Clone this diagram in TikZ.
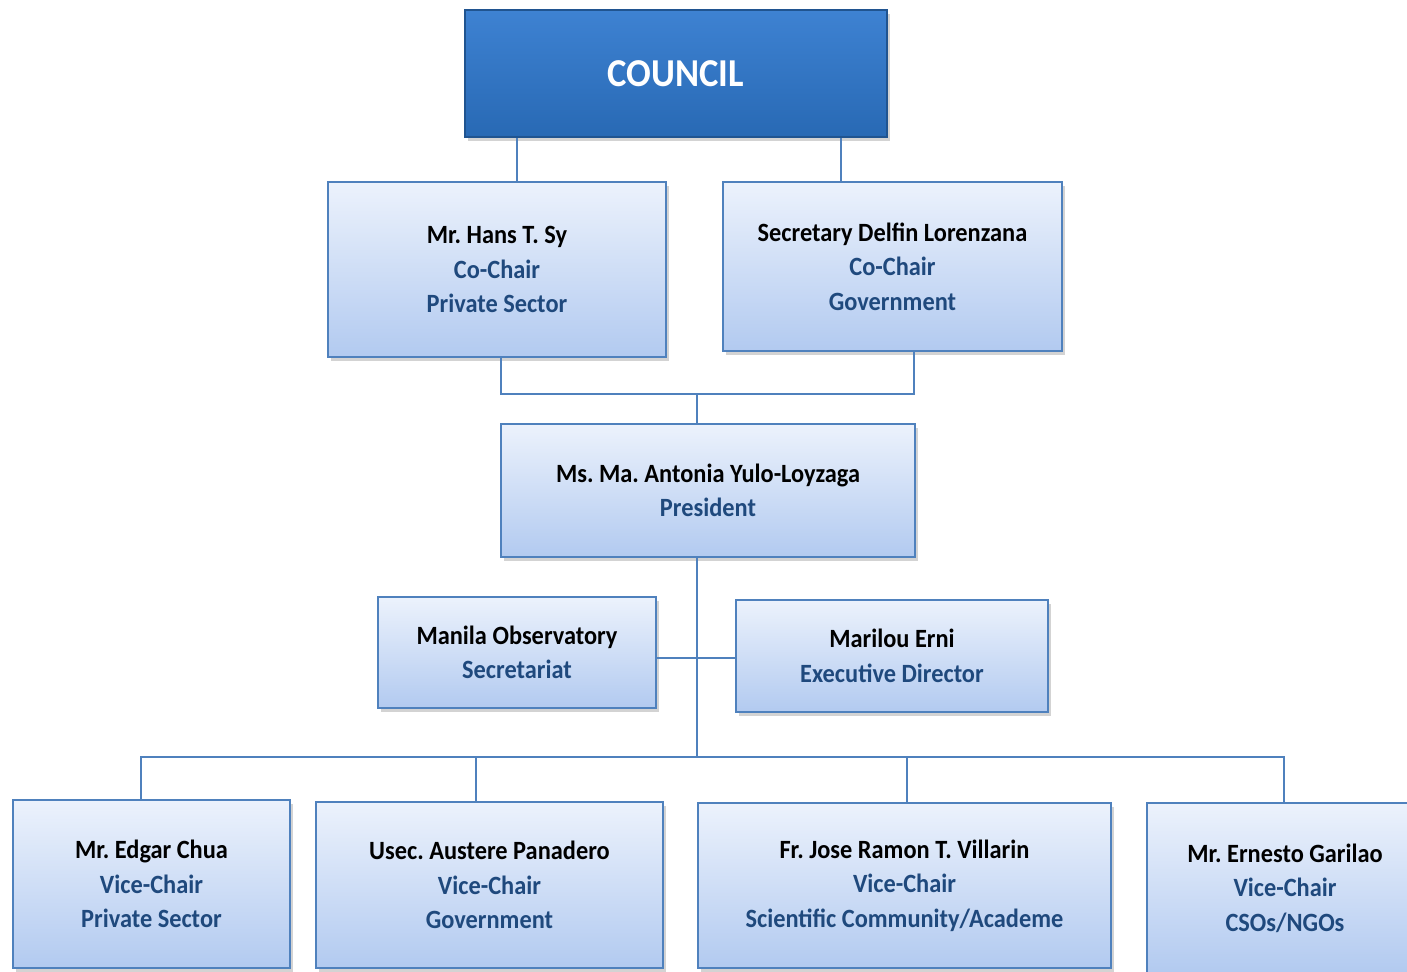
\documentclass[tikz,border=0pt]{standalone}
\usepackage{fontspec}
\setmainfont{Carlito}[FakeStretch=0.925]
\usepackage{tikz}
\usetikzlibrary{positioning}
\usetikzlibrary{shadows}
\definecolor{linkblue}{RGB}{79,129,189}
\definecolor{rolecol}{RGB}{31,73,125}
\definecolor{boxtop}{RGB}{236,242,252}
\definecolor{boxbot}{RGB}{178,202,240}
\definecolor{headtop}{RGB}{62,130,210}
\definecolor{headbot}{RGB}{40,105,180}
\newcommand{\role}[1]{\textcolor{rolecol}{#1}}
\frenchspacing

\begin{document}
\begin{tikzpicture}[
    x=0.02cm, y=-0.02cm,        % one unit = one pixel of the sheet
    ]
% -------------------------------------------------
\tikzset{
  base/.style={draw=linkblue, line width=0.8pt, rectangle, align=center,
    inner sep=0pt, font=\bfseries\fontsize{15}{19.6}\selectfont,
    drop shadow={shadow xshift=0.6mm, shadow yshift=-0.8mm, opacity=0.35}},
  box/.style={base, top color=boxtop, bottom color=boxbot},
  head/.style={base, top color=headtop, bottom color=headbot, draw=headbot!80!black,
    text=white, font=\bfseries\fontsize{22.5}{27}\selectfont},
  line/.style={draw=linkblue, line width=0.9pt}
}
\useasboundingbox (0,0) rectangle (1407,971);
% -------------------------------------------------
% Placing the nodes

\node [head, minimum width=8.44cm, minimum height=2.54cm] (cnl) at (676,73.5) {COUNCIL};

\node [box, minimum width=6.76cm, minimum height=3.5cm] (sy) at (497,269.5)
  {Mr. Hans T. Sy\\ \role{Co-Chair}\\ \role{Private Sector}};
\node [box, minimum width=6.78cm, minimum height=3.38cm] (lor) at (892.5,266.5)
  {Secretary Delfin Lorenzana\\ \role{Co-Chair}\\ \role{Government}};

\node [box, minimum width=8.28cm, minimum height=2.66cm] (pres) at (708,490.5)
  {Ms. Ma. Antonia Yulo-Loyzaga\\ \role{President}};

\node [box, minimum width=5.56cm, minimum height=2.22cm] (sec) at (517,652.5)
  {Manila Observatory\\ \role{Secretariat}};
\node [box, minimum width=6.24cm, minimum height=2.24cm] (exd) at (892,656)
  {Marilou Erni\\ \role{Executive Director}};

\node [box, minimum width=5.54cm, minimum height=3.36cm] (chua) at (151.5,884)
  {Mr. Edgar Chua\\ \role{Vice-Chair}\\ \role{Private Sector}};
\node [box, minimum width=6.94cm, minimum height=3.32cm] (pan) at (489.5,885)
  {Usec. Austere Panadero\\ \role{Vice-Chair}\\ \role{Government}};
\node [box, minimum width=8.26cm, minimum height=3.3cm] (vil) at (904.5,885.5)
  {Fr. Jose Ramon T. Villarin\\ \role{Vice-Chair}\\ \role{Scientific Community/Academe}};
\node [box, minimum width=5.52cm, minimum height=3.4cm] (gar) at (1285,888)
  {Mr. Ernesto Garilao\\ \role{Vice-Chair}\\ \role{CSOs/NGOs}};

% connectors
\coordinate (top) at (697,394);
\coordinate (mid) at (697,757);

\path [line] (cnl.south -| 517,0) -- (sy.north -| 517,0);
\path [line] (cnl.south -| 841,0) -- (lor.north -| 841,0);
\path [line] (sy.south -| 501,0) |- (top);
\path [line] (lor.south -| 914,0) |- (top);
\path [line] (top) -- (pres.north -| top);
\path [line] (pres.south -| top) -- (mid);
\path [line] (sec.east |- 0,658) -- (exd.west |- 0,658);
\path [line] (mid) -| (chua.north -| 141,0);
\path [line] (mid) -| (pan.north -| 476,0);
\path [line] (mid) -| (vil.north -| 907,0);
\path [line] (mid) -| (gar.north -| 1284,0);

\end{tikzpicture}
\end{document}
